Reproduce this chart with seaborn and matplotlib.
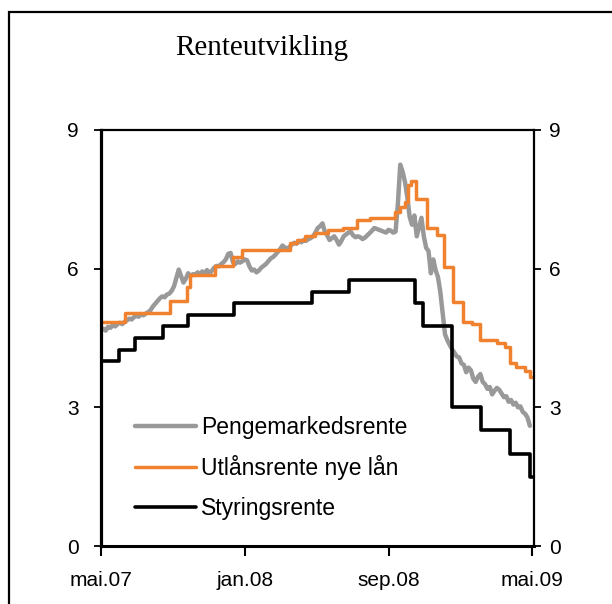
import pandas as pd
import matplotlib
matplotlib.use("Agg")
import matplotlib.pyplot as plt
from matplotlib.patches import Rectangle
import seaborn as sns

sns.set_style("ticks")
plt.rcParams['font.family'] = ['Liberation Sans', 'DejaVu Sans']
plt.rcParams['text.color'] = 'black'
plt.rcParams['xtick.color'] = 'black'
plt.rcParams['ytick.color'] = 'black'

# Pengemarkedsrente, read every 4th day from 1 May 2007
pengemarked = [
    4.67, 4.70, 4.66, 4.74, 4.72, 4.78, 4.75, 4.80, 4.83, 4.80,
    4.85, 4.88, 4.92, 4.90, 4.95, 4.98, 4.96, 5.02, 4.99, 5.03,
    5.06, 5.10, 5.18, 5.24, 5.30, 5.36, 5.40, 5.38, 5.44, 5.46,
    5.52, 5.62, 5.80, 5.98, 5.84, 5.70, 5.78, 5.90, 5.84, 5.88,
    5.86, 5.92, 5.88, 5.94, 5.90, 5.97, 5.90, 5.95, 6.02, 6.06,
    6.05, 6.10, 6.14, 6.20, 6.32, 6.34, 6.14, 6.10, 6.16, 6.13,
    6.16, 6.20, 6.18, 6.05, 5.96, 5.98, 5.92, 5.96, 6.02, 6.06,
    6.10, 6.16, 6.22, 6.25, 6.30, 6.36, 6.42, 6.50, 6.46, 6.43,
    6.47, 6.52, 6.56, 6.54, 6.60, 6.57, 6.62, 6.60, 6.64, 6.66,
    6.70, 6.78, 6.88, 6.92, 6.98, 6.80, 6.72, 6.62, 6.66, 6.70,
    6.62, 6.52, 6.60, 6.70, 6.74, 6.78, 6.80, 6.72, 6.68, 6.70,
    6.68, 6.64, 6.67, 6.72, 6.77, 6.82, 6.88, 6.86, 6.84, 6.82,
    6.80, 6.78, 6.84, 6.82, 6.78, 6.80, 7.40, 8.25, 8.10, 7.88,
    7.55, 7.12, 6.95, 7.15, 6.70, 6.90, 7.10, 6.70, 6.45, 6.38,
    5.90, 6.20, 5.97, 5.82, 5.50, 5.05, 4.58, 4.45, 4.35, 4.26,
    4.18, 4.10, 4.08, 3.95, 3.92, 3.76, 3.86, 3.80, 3.62, 3.55,
    3.66, 3.72, 3.55, 3.50, 3.40, 3.44, 3.28, 3.36, 3.42, 3.38,
    3.30, 3.22, 3.24, 3.12, 3.16, 3.06, 3.10, 3.00, 3.02, 2.90,
    2.86, 2.78, 2.60,
]
pengemarked_dates = pd.date_range("2007-05-01", periods=len(pengemarked), freq="4D")

utlan_dates = [
    "2007-05-01", "2007-06-11", "2007-08-26", "2007-09-24", "2007-09-29",
    "2007-11-10", "2007-12-11", "2007-12-26", "2008-03-17", "2008-03-29",
    "2008-04-12", "2008-04-28", "2008-05-20", "2008-06-15", "2008-07-08",
    "2008-07-30", "2008-09-11", "2008-09-19", "2008-09-28", "2008-10-04",
    "2008-10-09", "2008-10-16", "2008-11-04", "2008-11-21", "2008-12-04",
    "2008-12-18", "2009-01-04", "2009-01-19", "2009-02-03", "2009-03-03",
    "2009-03-16", "2009-03-25", "2009-04-05", "2009-04-19", "2009-04-29",
    "2009-05-04",
]
utlan = [
    4.85, 5.05, 5.30, 5.60, 5.87,
    6.05, 6.25, 6.40, 6.55, 6.62,
    6.70, 6.77, 6.84, 6.88, 7.05,
    7.10, 7.22, 7.33, 7.45, 7.80,
    7.90, 7.50, 6.88, 6.73, 6.04,
    5.27, 4.85, 4.80, 4.46, 4.40,
    4.30, 3.96, 3.88, 3.78, 3.66,
    3.66,
]

styring_dates = [
    "2007-05-01", "2007-05-31", "2007-06-27", "2007-08-15", "2007-09-26",
    "2007-12-12", "2008-04-23", "2008-06-25", "2008-10-15", "2008-10-29",
    "2008-12-17", "2009-02-04", "2009-03-25", "2009-04-29", "2009-05-04",
]
styring = [
    4.00, 4.25, 4.50, 4.75, 5.00,
    5.25, 5.50, 5.75, 5.25, 4.75,
    3.00, 2.50, 2.00, 1.50, 1.50,
]

tick_dates = ["2007-05-01", "2008-01-01", "2008-09-01", "2009-05-01"]
tick_labels = ["mai.07", "jan.08", "sep.08", "mai.09"]
y_ticks = [0, 3, 6, 9]

fig = plt.figure(figsize=(6.12, 6.04), dpi=100)
ax = fig.add_axes([0.165, 0.096, 0.7075, 0.6888])

sns.lineplot(x=pengemarked_dates, y=pengemarked, color="#999999", lw=3.2,
             ax=ax, label="Pengemarkedsrente")
sns.lineplot(x=pd.to_datetime(utlan_dates), y=utlan, color="#F0822F", lw=2.5,
             drawstyle="steps-post", ax=ax, label="Utlånsrente nye lån")
sns.lineplot(x=pd.to_datetime(styring_dates), y=styring, color="black", lw=2.6,
             drawstyle="steps-post", ax=ax, label="Styringsrente")

ax.set_xlim(pd.Timestamp("2007-05-01"), pd.Timestamp("2009-05-05"))
ax.set_ylim(0, 9)
ax.set_yticks(y_ticks)
ax.set_xticks(pd.to_datetime(tick_dates))
ax.set_xticklabels(tick_labels)
ax.set_xlabel("")
ax.set_ylabel("")
ax.tick_params(axis="y", labelsize=15, length=5, width=1.3, pad=11, direction="out")
ax.tick_params(axis="x", labelsize=15, length=7, width=1.5, pad=11, direction="out")

ax.spines["left"].set_linewidth(2.3)
ax.spines["bottom"].set_linewidth(2.2)
ax.spines["top"].set_linewidth(1.6)
ax.spines["right"].set_linewidth(1.6)
for s in ax.spines.values():
    s.set_color("black")

# right axis with the same scale
ax2 = ax.twinx()
ax2.set_ylim(0, 9)
ax2.set_yticks(y_ticks)
ax2.tick_params(axis="y", labelsize=15, length=5, width=1.3, pad=6, direction="out")
for side in ["left", "top", "bottom", "right"]:
    ax2.spines[side].set_visible(False)

handles, labels = ax.get_legend_handles_labels()
ax.legend(handles, labels, loc="lower left", bbox_to_anchor=(0.03, 0.014),
          frameon=False, fontsize=16.5, handlelength=2.7, handletextpad=0.2,
          labelspacing=0.72)

fig.text(262 / 612, 1 - 48 / 604, "Renteutvikling", ha="center", va="center",
         family="Liberation Serif", fontsize=21)

# outer frame, cut off at the right and bottom edge
fig.patches.append(Rectangle((9 / 612, -0.1), 1.2, 1.08, transform=fig.transFigure,
                             fill=False, lw=1.6, edgecolor="black", clip_on=False))

fig.savefig("out.png", dpi=100)
